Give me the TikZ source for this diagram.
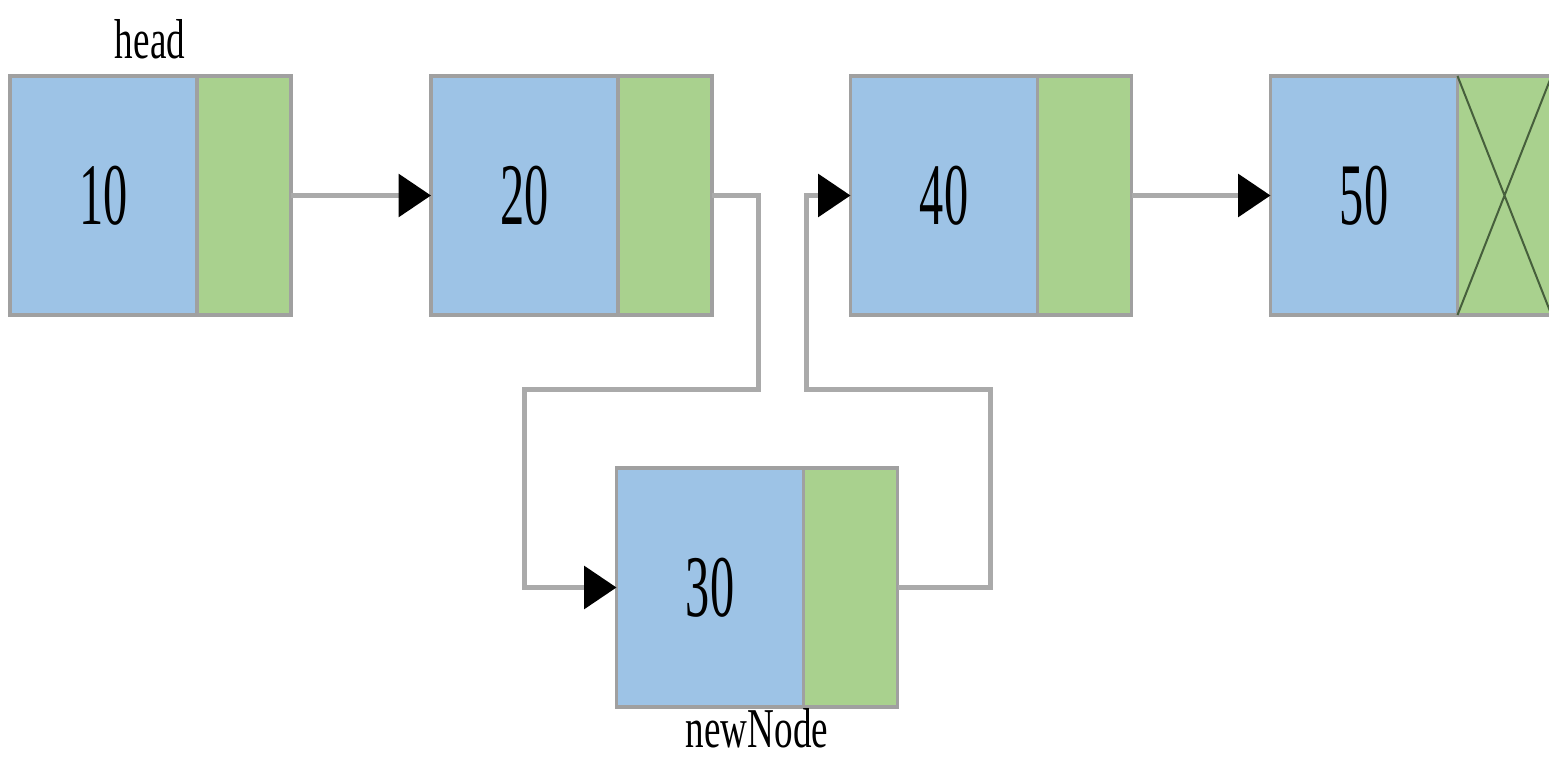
\documentclass[tikz,border=0pt]{standalone}
\usepackage{fontspec}
\setmainfont{Liberation Serif}
\usepackage{graphicx}
\usetikzlibrary{positioning,arrows.meta}

\definecolor{databg}{RGB}{157,195,230}
\definecolor{ptrbg}{RGB}{169,209,142}
\definecolor{boxline}{RGB}{160,160,160}
\definecolor{linkgray}{RGB}{170,170,170}
\definecolor{crossgreen}{RGB}{70,95,60}

\newcommand{\val}[1]{\scalebox{0.55}[1]{\fontsize{50}{50}\selectfont #1}}
\newcommand{\lbl}[1]{\scalebox{0.66}[1]{\fontsize{32}{32}\selectfont #1}}

\tikzset{
  databox/.style={draw=boxline,line width=0.07cm,fill=databg,minimum width=3.74cm,minimum height=4.78cm,inner sep=0pt,outer sep=0pt},
  ptrbox/.style={draw=boxline,line width=0.07cm,fill=ptrbg,minimum width=1.88cm,minimum height=4.78cm,inner sep=0pt,outer sep=0pt},
  link/.style={draw=linkgray,line width=0.1cm,-{Triangle[length=0.65cm,width=0.85cm,fill=black,color=black]}},
  caption/.style={inner sep=0pt,anchor=base}
}

\begin{document}
\begin{tikzpicture}
\useasboundingbox (0,0) rectangle (30.98,15.28);

\node[databox] (d10) at (2.07,11.37) {\val{10}};
\node[ptrbox,right=0pt of d10] (p10) {};
\node[databox] (d20) at (10.49,11.37) {\val{20}};
\node[ptrbox,right=0pt of d20] (p20) {};
\node[databox] (d40) at (18.88,11.37) {\val{40}};
\node[ptrbox,right=0pt of d40] (p40) {};
\node[databox] (d50) at (27.28,11.37) {\val{50}};
\node[ptrbox,right=0pt of d50] (p50) {};

\node[databox] (d30) at (14.2,3.53) {\val{30}};
\node[ptrbox,right=0pt of d30] (p30) {};

\node[caption] (head) at (3.0,14.1) {\lbl{head}};
\node[caption] (newnode) at (15.14,0.32) {\lbl{newNode}};

\draw[crossgreen,line width=0.04cm] (p50.north west)--(p50.south east) (p50.south west)--(p50.north east);

\coordinate (c1) at (15.16,7.48);
\coordinate (c2) at (10.48,7.48);
\coordinate (c3) at (19.8,7.48);
\coordinate (c4) at (16.12,7.48);

\draw[link] (p10.east)--(d20.west);
\draw[link] (p40.east)--(d50.west);
\draw[link] (p20.east)-|(c1)--(c2)|-(d30.west);
\draw[link] (p30.east)-|(c3)--(c4)|-(d40.west);

\end{tikzpicture}
\end{document}
